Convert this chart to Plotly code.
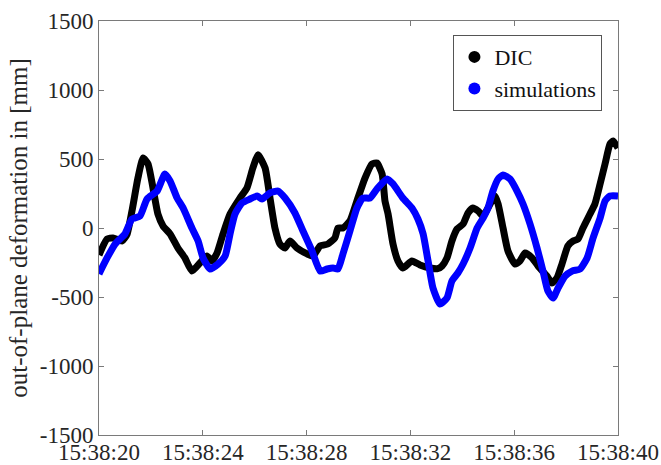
import pandas as pd
import plotly.graph_objects as go

# DIC measurements: seconds after 15:38:20 and deformation [mm]
dic_t = [0.0, 0.31, 0.54, 0.89, 1.08, 1.27, 1.50, 1.70, 1.89, 2.08, 2.27, 2.47, 2.74, 3.04, 3.31,
         3.58, 3.89, 4.16, 4.35, 4.55, 4.78, 5.05, 5.43, 5.70, 5.93, 6.13, 6.40, 6.59, 6.78, 6.97,
         7.17, 7.36, 7.63, 8.02, 8.25, 8.52, 8.82, 9.09, 9.21, 9.40, 9.67, 9.94, 10.25, 10.52,
         10.71, 10.91, 11.02, 11.14, 11.33, 11.52, 11.71, 12.06, 12.37, 12.76, 13.05, 13.22, 13.41,
         13.60, 13.80, 14.03, 14.22, 14.41, 14.61, 14.80, 14.99, 15.26, 15.38, 15.57, 15.76, 16.03,
         16.22, 16.42, 16.69, 16.92, 17.26, 17.46, 17.65, 17.84, 18.07, 18.27, 18.46, 18.65, 18.92,
         19.11, 19.31, 19.50, 19.69, 19.81, 20.0]
dic_v = [-196, -80, -72, -94, -45, 123, 362, 507, 464, 290, 101, 14, -43, -145, -217,
         -312, -253, -203, -239, -181, -43, 101, 217, 290, 435, 530, 435, 217, 0, -116,
         -145, -94, -145, -188, -203, -130, -116, -72, 0, 0, 51, 196, 362, 464,
         471, 391, 196, 101, -116, -239, -290, -239, -268, -290, -295, -275, -217,
         -94, -7, 29, 109, 145, 123, 87, 145, 232, 174, 0, -167, -261,
         -239, -181, -217, -275, -348, -399, -362, -261, -130, -94, -80, 0, 101,
         174, 319, 464, 609, 630, 580]

# Simulations: seconds after 15:38:20 and deformation [mm]
sim_t = [0.0, 0.31, 0.62, 1.00, 1.27, 1.58, 1.85, 2.24, 2.54, 2.74, 3.01, 3.24, 3.58, 3.82, 4.01,
         4.28, 4.59, 4.86, 5.05, 5.24, 5.51, 5.82, 6.09, 6.28, 6.59, 6.90, 7.17, 7.55, 7.86, 8.21,
         8.52, 8.79, 9.02, 9.21, 9.40, 9.67, 9.94, 10.17, 10.44, 10.71, 11.10, 11.33, 11.71, 12.06,
         12.29, 12.49, 12.68, 12.87, 13.14, 13.41, 13.60, 13.83, 14.03, 14.30, 14.57, 14.80, 14.99,
         15.18, 15.38, 15.57, 15.84, 16.11, 16.34, 16.61, 16.88, 17.11, 17.30, 17.50, 17.69, 17.96,
         18.23, 18.54, 18.81, 19.04, 19.31, 19.50, 19.69, 20.0]
sim_v = [-333, -217, -116, -43, 65, 87, 210, 268, 391, 341, 217, 145, 0, -94, -217,
         -297, -261, -203, -43, 101, 181, 210, 232, 210, 254, 268, 217, 109, -22, -167,
         -312, -297, -290, -297, -188, -22, 145, 217, 217, 283, 355, 319, 217, 145,
         65, -43, -239, -435, -551, -507, -384, -326, -261, -145, 0, 72, 145,
         268, 355, 384, 355, 268, 174, 29, -145, -312, -457, -507, -435, -348,
         -312, -297, -217, -72, 72, 196, 232, 232]

t0 = pd.Timestamp("2020-01-01 15:38:20")
y_ticks = [-1500, -1000, -500, 0, 500, 1000, 1500]


def to_time(sec):
    return t0 + pd.to_timedelta(sec, unit="s")


FONT = "'Liberation Serif', 'Times New Roman', Times, serif"
TXT = "#262626"
FS = 23
fig = go.Figure()
for name, ts, vs, col in [("DIC", dic_t, dic_v, "black"), ("simulations", sim_t, sim_v, "#0000ff")]:
    fig.add_trace(go.Scatter(x=to_time(ts), y=vs, mode="lines",
                             line=dict(color=col, width=7, shape="spline", smoothing=0.5),
                             showlegend=False))
    fig.add_trace(go.Scatter(x=[None], y=[None], mode="markers", name=name,
                             marker=dict(color=col, size=6)))

axcol = "#7a7a7a"
fig.update_layout(
    width=661, height=465,
    margin=dict(l=99, r=43, t=21, b=30),
    paper_bgcolor="white", plot_bgcolor="white",
    font=dict(family=FONT, size=FS, color=TXT),
    showlegend=True,
    legend=dict(x=0.97, y=0.966, xanchor="right", yanchor="top",
                bgcolor="white", bordercolor="#555", borderwidth=1,
                font=dict(family=FONT, size=22, color="#111"),
                itemsizing="constant", tracegroupgap=0, itemwidth=30),
)
fig.update_xaxes(
    range=[to_time(0), to_time(20)], automargin=False,
    tickformat="%H:%M:%S", dtick=4000, tick0=to_time(0),
    showgrid=False, zeroline=False,
    showline=True, linecolor=axcol, linewidth=1, mirror="ticks",
    ticks="inside", ticklen=5, tickcolor=axcol, ticklabelstandoff=-4,
    tickfont=dict(family=FONT, size=FS, color=TXT),
)
fig.update_yaxes(
    range=[-1500, 1500], tickvals=y_ticks, ticktext=[str(v) for v in y_ticks],
    automargin=False,
    showgrid=False, zeroline=False,
    showline=True, linecolor=axcol, linewidth=1, mirror="ticks",
    ticks="inside", ticklen=5, tickcolor=axcol,
    tickfont=dict(family=FONT, size=FS, color=TXT),
    title=dict(text="out-of-plane deformation in [mm]", standoff=4,
               font=dict(family=FONT, size=25, color=TXT)),
)
fig.write_html("out.html")
